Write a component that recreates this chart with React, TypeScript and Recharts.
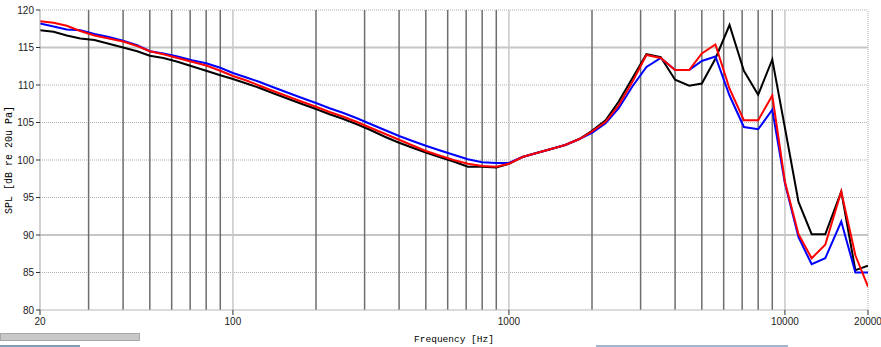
import React from 'react';
import {
  LineChart,
  Line,
  XAxis,
  YAxis,
  ReferenceLine,
} from 'recharts';

const freqs = [
  20, 22.4, 25, 28, 31.5, 35.5, 40, 45, 50, 56, 63, 71, 80, 90,
  100, 112, 125, 140, 160, 180, 200, 224, 250, 280, 315, 355, 400, 450, 500, 560, 630, 710, 800, 900,
  1000, 1120, 1250, 1400, 1600, 1800, 2000, 2240, 2500, 2800, 3150, 3550, 4000, 4500, 5000, 5600, 6300, 7100, 8000, 9000,
  10000, 11200, 12500, 14000, 16000, 18000, 20000,
];

const blackSpl = [
  117.3, 117.1, 116.6, 116.2, 116.0, 115.5, 115.0, 114.5, 113.9, 113.6, 113.1, 112.5, 111.9, 111.3,
  110.8, 110.2, 109.6, 108.9, 108.1, 107.4, 106.8, 106.1, 105.5, 104.8, 104.0, 103.1, 102.3, 101.6, 101.0, 100.4, 99.8, 99.1, 99.1, 99.0,
  99.5, 100.4, 100.9, 101.4, 102.0, 102.8, 103.9, 105.3, 107.8, 110.9, 114.1, 113.7, 110.7, 109.9, 110.2, 113.5, 118.0, 111.9, 108.7, 113.4,
  104.3, 94.4, 90.1, 90.1, 95.8, 85.3, 85.9,
];

const redSpl = [
  118.5, 118.3, 117.9, 117.2, 116.6, 116.2, 115.8, 115.2, 114.5, 114.1, 113.6, 113.1, 112.6, 111.9,
  111.2, 110.6, 109.9, 109.2, 108.4, 107.7, 107.1, 106.4, 105.8, 105.1, 104.3, 103.5, 102.7, 101.9, 101.2, 100.6, 100.0, 99.5, 99.2, 99.1,
  99.5, 100.4, 100.9, 101.4, 102.0, 102.8, 103.8, 105.1, 107.3, 110.4, 114.0, 113.6, 112.0, 112.0, 114.2, 115.4, 109.5, 105.3, 105.3, 108.6,
  97.1, 90.1, 86.9, 88.7, 95.8, 87.3, 83.1,
];

const blueSpl = [
  118.2, 117.8, 117.4, 117.3, 116.8, 116.4, 115.9, 115.3, 114.5, 114.2, 113.8, 113.3, 112.9, 112.3,
  111.6, 111.0, 110.4, 109.7, 108.9, 108.2, 107.6, 106.9, 106.3, 105.6, 104.8, 104.0, 103.2, 102.5, 101.9, 101.3, 100.7, 100.1, 99.7, 99.6,
  99.6, 100.4, 100.9, 101.4, 102.0, 102.8, 103.6, 104.9, 106.9, 109.8, 112.4, 113.6, 112.0, 112.0, 113.2, 113.8, 108.6, 104.4, 104.1, 106.7,
  96.9, 89.7, 86.1, 86.9, 91.8, 85.0, 85.0,
];

const xTicks = [20, 100, 1000, 10000, 20000];
const yTicks = [80, 85, 90, 95, 100, 105, 110, 115, 120];
const darkGridX = [
  30, 40, 50, 60, 70, 80, 90,
  200, 300, 400, 500, 600, 700, 800, 900,
  2000, 3000, 4000, 5000, 6000, 7000, 8000, 9000,
];
const lightGridX = [100, 1000, 10000];
const dottedGridY = [85, 95, 100, 105, 110, 120];
const solidGridY = [90, 115];

const data = freqs.map((f, i) => ({
  f,
  black: blackSpl[i],
  red: redSpl[i],
  blue: blueSpl[i],
}));

const tickFont = { fontFamily: 'Liberation Sans', fontSize: 10, fill: '#222' };

const YLabel = (props: any) => {
  const vb = props.viewBox || { y: 10, height: 300 };
  const cy = vb.y + vb.height / 2;
  return (
    <text
      x={9}
      y={cy}
      transform={`rotate(-90 9 ${cy})`}
      textAnchor='middle'
      dominantBaseline='central'
      style={{ fontFamily: 'Liberation Mono', fontSize: 10, fill: '#000' }}
    >
      SPL [dB re 20u Pa]
    </text>
  );
};

const App = () => {
  return (
    <div style={{ position: 'absolute', left: 0, top: 0, width: 881, height: 347, background: '#fff', overflow: 'hidden' }}>
      <LineChart
        width={881}
        height={347}
        data={data}
        margin={{ top: 10, right: 13, bottom: 0, left: 0 }}
      >
        <XAxis
          dataKey='f'
          type='number'
          scale='log'
          domain={[20, 20000]}
          ticks={xTicks}
          allowDataOverflow
          height={37}
          tickSize={5}
          tickMargin={3}
          tick={tickFont}
          axisLine={{ stroke: '#b8b8b8' }}
          tickLine={{ stroke: '#333' }}
          interval={0}
          label={{
            value: 'Frequency [Hz]',
            position: 'insideBottom',
            offset: 5,
            style: { fontFamily: 'Liberation Mono', fontSize: 9.5, fill: '#000' },
          }}
        />
        <YAxis
          type='number'
          domain={[80, 120]}
          ticks={yTicks}
          allowDataOverflow
          width={40}
          tickSize={4}
          tickMargin={2}
          tick={tickFont}
          axisLine={{ stroke: '#a0a0a0' }}
          tickLine={{ stroke: '#333' }}
          interval={0}
          label={<YLabel />}
        />
        {dottedGridY.map((v) => (
          <ReferenceLine key={'dy' + v} y={v} stroke='#b0b0b0' strokeDasharray='1 1' />
        ))}
        {solidGridY.map((v) => (
          <ReferenceLine key={'sy' + v} y={v} stroke='#c4c8c4' strokeWidth={2} />
        ))}
        {lightGridX.map((v) => (
          <ReferenceLine key={'lx' + v} x={v} stroke='#c8c8c8' strokeWidth={1.5} />
        ))}
        {darkGridX.map((v) => (
          <ReferenceLine key={'dx' + v} x={v} stroke='#6e6e6e' strokeWidth={1.5} />
        ))}
        <ReferenceLine x={20000} stroke='#b0b0b0' strokeDasharray='1 1' />
        <Line type='linear' dataKey='black' stroke='#000' strokeWidth={2} dot={false} isAnimationActive={false} />
        <Line type='linear' dataKey='blue' stroke='#0000ff' strokeWidth={2} dot={false} isAnimationActive={false} />
        <Line type='linear' dataKey='red' stroke='#ff0000' strokeWidth={2} dot={false} isAnimationActive={false} />
      </LineChart>
      <div style={{ position: 'absolute', left: 0, top: 333, width: 140, height: 8, background: '#c8c8c8', border: '1px solid #a8a8a8', boxSizing: 'border-box' }} />
      <div style={{ position: 'absolute', left: 0, top: 345, width: 80, height: 2, background: '#7f9db9' }} />
      <div style={{ position: 'absolute', left: 596, top: 345, width: 192, height: 2, background: '#9fb5d0' }} />
    </div>
  );
};

export default App;
